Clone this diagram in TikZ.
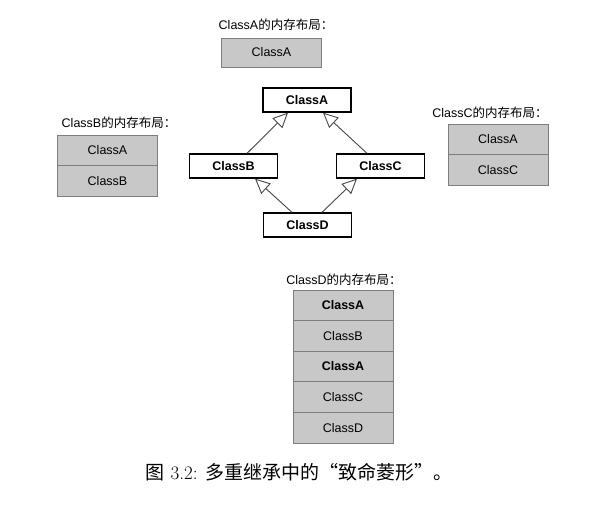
\documentclass[tikz,border=0pt]{standalone}
\usepackage{fontspec}
\usepackage{tikz}
\usetikzlibrary{arrows.meta,positioning}
\newfontfamily\arial{Liberation Sans}
\newfontfamily\cjk{Noto Sans CJK SC}
\definecolor{memfill}{RGB}{200,200,200}
\definecolor{memline}{RGB}{125,125,125}
\definecolor{arrline}{RGB}{70,70,70}

\begin{document}
\begin{tikzpicture}[
  x=1pt, y=-1pt,
  K/.style = {draw=black, fill=white, line width=1.3pt,
              minimum width=88pt, minimum height=24pt, inner sep=0pt,
              font=\fontsize{12.5}{14}\selectfont\arial\bfseries},
  M/.style = {draw=memline, fill=memfill, line width=0.8pt,
              minimum width=100pt, minimum height=30.6pt, inner sep=0pt,
              font=\fontsize{12.5}{14}\selectfont\arial},
  MB/.style = {M, font=\fontsize{12.5}{14}\selectfont\arial\bfseries},
  L/.style = {inner sep=0pt, font=\fontsize{12.5}{14}\selectfont},
  arr/.style = {-{Triangle[open, length=15pt, width=14pt]},
                line width=0.9pt, color=arrline}
]
\useasboundingbox (0,0) rectangle (611,506);

% memory layout of ClassA
\node[L] (labA) at (276, 25) {{\arial ClassA}{\cjk 的内存布局：}};
\node[M, minimum height=29pt] (mA1) at (271.5, 52.5) {ClassA};

% memory layout of ClassB
\node[L] (labB) at (119, 123) {{\arial ClassB}{\cjk 的内存布局：}};
\node[M] (mB1) at (107.5, 150.5) {ClassA};
\node[M] (mB2) at (107.5, 181.1) {ClassB};

% memory layout of ClassC
\node[L] (labC) at (490, 113) {{\arial ClassC}{\cjk 的内存布局：}};
\node[M] (mC1) at (498, 139.5) {ClassA};
\node[M] (mC2) at (498, 170.1) {ClassC};

% the diamond
\node[K] (A) at (307, 100) {ClassA};
\node[K] (B) at (233.5, 166) {ClassB};
\node[K] (C) at (380.5, 166) {ClassC};
\node[K] (D) at (307.5, 225) {ClassD};

\draw[arr] ([xshift=13.5pt]B.north) -- ([xshift=-19pt]A.south);
\draw[arr] ([xshift=-13.5pt]C.north) -- ([xshift=16pt]A.south);
\draw[arr] ([xshift=-15.5pt]D.north) -- ([xshift=21.5pt]B.south);
\draw[arr] ([xshift=14.5pt]D.north) -- ([xshift=-23.5pt]C.south);

% memory layout of ClassD
\node[L] (labD) at (344, 280) {{\arial ClassD}{\cjk 的内存布局：}};
\node[MB] (mD1) at (343, 305.3) {ClassA};
\node[M]  (mD2) at (343, 335.9) {ClassB};
\node[MB] (mD3) at (343, 366.5) {ClassA};
\node[M]  (mD4) at (343, 397.1) {ClassC};
\node[M]  (mD5) at (343, 427.7) {ClassD};

% caption
\node[inner sep=0pt, font=\fontsize{19}{22}\selectfont] (cap) at (299, 472)
  {{\cjk 图} 3.2: {\cjk 多重继承中的“致命菱形”。}};
\end{tikzpicture}
\end{document}
